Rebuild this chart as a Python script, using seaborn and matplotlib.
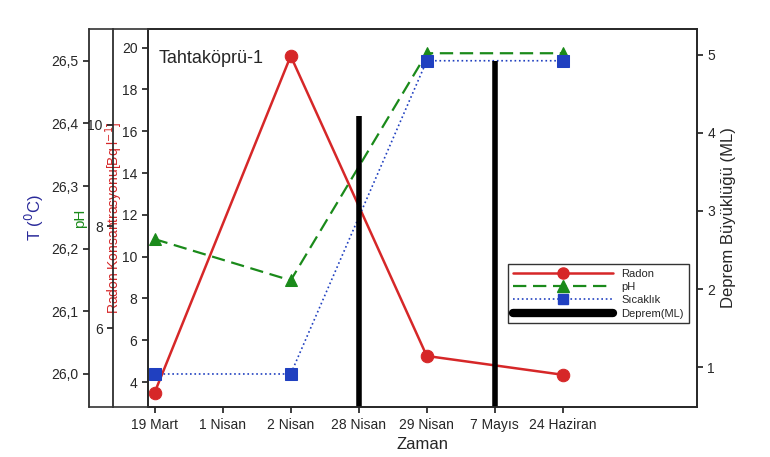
import matplotlib
matplotlib.use("Agg")
import matplotlib.pyplot as plt
import seaborn as sns
import pandas as pd
from matplotlib.lines import Line2D

sns.set_theme(style="ticks")
plt.rcParams['font.family'] = ['Liberation Sans', 'DejaVu Sans']

dates = ["19 Mart", "1 Nisan", "2 Nisan", "28 Nisan", "29 Nisan", "7 Mayıs", "24 Haziran"]
radon_dates = ["19 Mart", "2 Nisan", "29 Nisan", "24 Haziran"]
radon = [3.5, 19.6, 5.25, 4.35]
ph = [7.75, 6.94, 11.4, 11.4]
temp = [26.0, 26.0, 26.5, 26.5]
eq_dates = ["28 Nisan", "7 Mayıs"]
eq_mag = [4.22, 4.92]

pos = {d: i for i, d in enumerate(dates)}
df = pd.DataFrame({"x": [pos[d] for d in radon_dates], "radon": radon, "ph": ph, "temp": temp})
eq = pd.DataFrame({"x": [pos[d] for d in eq_dates], "mag": eq_mag})

fig = plt.figure(figsize=(7.7, 4.57), dpi=100)
ax = fig.add_axes([0.192, 0.109, 0.713, 0.828])
axp = ax.twinx(); axt = ax.twinx(); axe = ax.twinx()
for a in (axp, axt):
    a.yaxis.set_ticks_position('left'); a.yaxis.set_label_position('left')
    for s in ('right', 'top', 'bottom'):
        a.spines[s].set_visible(False)
    a.spines['left'].set_visible(True)
axp.spines['left'].set_position(('outward', 25))
axt.spines['left'].set_position(('outward', 42.5))

sns.lineplot(data=df, x="x", y="radon", ax=ax, color="#d62728", marker="o", markersize=9,
             markeredgecolor="#d62728", lw=1.8, legend=False)
sns.lineplot(data=df, x="x", y="ph", ax=axp, color="#1a8a1a", marker="^", markersize=9,
             markeredgecolor="#1a8a1a", lw=1.6, dashes=(6, 3), legend=False)
sns.lineplot(data=df, x="x", y="temp", ax=axt, color="#2040c0", marker="s", markersize=8,
             markeredgecolor="#2040c0", lw=1.2, ls=":", legend=False)
axe.vlines(eq["x"], 0, eq["mag"], color="black", lw=4)

ax.set_xlim(-0.1, 7.97); ax.set_ylim(2.8, 20.9)
axp.set_ylim(4.45, 11.88); axt.set_ylim(25.947, 26.551); axe.set_ylim(0.49, 5.33)
ax.set_xticks(range(len(dates))); ax.set_xticklabels(dates, fontsize=10)
ax.set_yticks(range(4, 21, 2)); axp.set_yticks([6, 8, 10])
axt.set_yticks([26.0, 26.1, 26.2, 26.3, 26.4, 26.5])
axt.set_yticklabels(["26,0", "26,1", "26,2", "26,3", "26,4", "26,5"])
axe.set_yticks([1, 2, 3, 4, 5])
for a in (ax, axp, axt, axe):
    a.tick_params(labelsize=10, direction='out', length=4)
ax.set_xlabel("Zaman", fontsize=12)
ax.set_ylabel("Radon Konsantrasyonu[Bq l$^{-1}$]", color="#d62728", fontsize=10, labelpad=-2)
axp.set_ylabel("pH", color="#1a8a1a", fontsize=11, labelpad=0)
axt.set_ylabel("T ($^{0}$C)", color="#2a2a9a", fontsize=12, labelpad=4)
axe.set_ylabel("Deprem Büyüklüğü (ML)", fontsize=12)
ax.text(0.02, 0.91, "Tahtaköprü-1", transform=ax.transAxes, fontsize=13)

for y in (0.109, 0.937):
    fig.add_artist(Line2D([0.115, 0.192], [y, y], color="#333333", lw=1.2, transform=fig.transFigure))
for s in ax.spines.values():
    s.set_color("#333333")

handles = [Line2D([], [], color="#d62728", marker="o", lw=1.8, markersize=8),
           Line2D([], [], color="#1a8a1a", marker="^", lw=1.6, dashes=(6, 3), markersize=8),
           Line2D([], [], color="#2040c0", marker="s", lw=1.2, ls=":", markersize=7),
           Line2D([], [], color="black", lw=6)]
axe.legend(handles, ["Radon", "pH", "Sıcaklık", "Deprem(ML)"], loc="center right",
           bbox_to_anchor=(0.995, 0.3), fontsize=8, frameon=True, fancybox=False,
           edgecolor="black", handlelength=9, labelspacing=0.3)
fig.savefig("out.png", dpi=100)
